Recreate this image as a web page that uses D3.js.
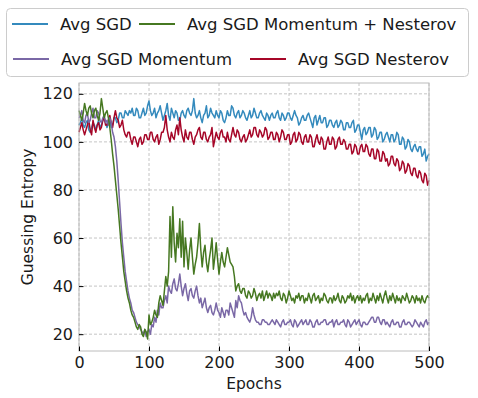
<!DOCTYPE html>
<html>
<head>
<meta charset="utf-8">
<script src="https://cdn.jsdelivr.net/npm/d3@7"></script>
<style>
  body { margin: 0; background: #fff; }
  text { font-family: "DejaVu Sans", sans-serif; fill: #1a1a1a; }
</style>
</head>
<body>
<div id="root"></div>
<script>
const width = 478;
const height = 398;

const epochStep = 2;   // one value every 2 epochs, 0..500
const seriesNames = ["Avg SGD", "Avg SGD Nesterov", "Avg SGD Momentum", "Avg SGD Momentum + Nesterov"];
const seriesColors = ["#348ABD", "#A60628", "#7A68A6", "#467821"];
const xTicks = [0, 100, 200, 300, 400, 500];
const yTicks = [20, 40, 60, 80, 100, 120];

// each row = 20 values (40 epochs)
const sgd = [
  107,108,110,107,106,108,109,105,104,106,108,107,105,107,109,106,107,109,110,108,
  106,108,109,106,107,110,110,108,109,112,112,110,110,113,112,111,113,112,114,111,
  111,114,113,110,110,112,114,111,112,115,117,113,111,112,114,110,112,113,115,112,
  109,111,113,116,111,109,114,112,110,113,112,109,109,112,113,111,110,113,114,112,
  111,113,118,112,110,111,113,110,108,111,112,115,110,111,114,112,111,110,113,111,
  110,113,112,109,108,110,113,111,111,115,114,111,110,112,113,110,111,113,112,110,
  109,111,113,110,111,114,112,110,110,112,113,111,110,109,112,111,109,111,112,110,
  110,112,113,110,109,112,111,109,110,112,112,110,109,111,113,111,110,107,108,110,
  111,109,109,111,112,110,108,106,110,111,107,109,111,108,108,110,110,106,107,109,
  109,107,106,108,109,106,107,109,108,105,105,108,108,106,106,108,109,104,105,107,
  107,104,101,105,106,103,104,106,106,102,103,106,105,101,102,104,104,100,101,103,
  104,102,100,103,103,100,101,104,103,99,99,102,101,97,98,101,100,97,96,98,
  99,97,96,98,98,94,95,97,92,94,95
];
const nesterov = [
  104,106,108,105,103,105,107,109,105,103,109,106,104,107,108,105,106,109,110,107,
  107,109,111,108,106,110,113,110,109,106,107,109,105,103,102,104,104,101,99,102,
  102,100,98,101,102,99,100,103,103,101,101,104,104,101,100,102,103,99,101,104,
  104,106,111,105,102,100,104,102,101,105,107,103,110,105,102,100,105,102,101,104,
  104,101,99,102,103,105,106,102,101,104,104,101,100,102,103,106,98,101,104,102,
  101,104,105,102,102,100,104,101,100,103,106,103,102,105,104,101,100,102,103,100,
  101,103,105,102,103,106,106,103,102,105,104,102,103,106,105,101,102,104,104,101,
  101,104,103,100,102,105,104,101,101,103,103,99,100,103,104,100,101,104,103,100,
  99,102,103,100,100,103,102,98,98,101,103,100,99,102,101,97,97,100,102,99,
  99,102,101,97,98,101,102,99,99,101,100,97,97,99,99,95,96,99,98,95,
  95,98,99,96,96,99,98,95,94,97,97,93,93,97,96,92,92,96,95,92,
  93,90,91,94,94,91,90,93,92,88,89,92,91,87,88,91,90,87,86,89,
  89,86,85,88,87,84,83,87,86,82,84
];
const momentum = [
  110,111,113,109,108,111,112,108,109,112,114,110,110,113,112,109,108,110,111,108,
  109,107,110,108,104,102,98,92,84,75,66,58,52,46,42,38,35,33,30,29,
  27,25,24,23,22,21,20,22,19,21,22,20,24,23,27,25,30,28,33,31,
  31,34,36,33,40,38,37,41,43,39,38,41,45,40,36,39,41,37,34,38,
  39,36,35,38,40,36,33,35,31,33,35,31,29,31,32,29,28,30,33,30,
  29,27,31,29,27,30,30,28,33,31,29,27,34,31,36,34,33,30,28,29,
  27,26,25,27,31,28,26,25,25,24,24,26,26,25,25,24,24,25,26,25,
  24,26,25,24,23,25,26,24,24,25,25,26,24,23,26,25,23,24,25,26,
  24,25,26,24,24,26,25,23,23,25,26,24,24,25,25,26,26,24,24,25,
  25,26,23,25,26,24,24,25,25,26,24,23,26,25,23,24,25,26,24,25,
  26,24,23,25,25,24,24,25,26,27,27,25,25,27,27,25,24,26,26,24,
  25,24,23,25,26,24,24,25,25,23,23,25,26,24,24,25,25,24,23,24,
  26,25,24,23,25,24,23,25,26,24,25
];
const momentumNesterov = [
  113,111,109,112,116,113,111,114,115,112,110,113,114,111,109,112,118,114,110,112,
  113,110,106,101,95,90,84,78,72,65,58,52,46,42,38,35,33,30,28,27,
  25,23,22,24,23,20,19,22,21,18,28,24,25,27,30,28,27,33,36,34,
  32,38,44,40,46,69,52,73,58,50,62,56,68,52,67,48,60,54,47,55,
  60,52,45,49,52,58,66,55,48,54,57,50,46,51,55,60,47,52,58,51,
  45,50,54,50,48,52,56,53,50,49,48,44,38,40,41,38,37,39,39,36,
  35,38,37,35,36,39,37,34,36,37,35,38,34,36,38,35,37,36,34,37,
  35,37,36,38,35,34,37,36,33,35,38,36,34,35,33,36,35,37,34,36,
  36,33,35,34,37,35,33,36,37,34,35,36,33,35,34,37,36,34,33,35,
  35,33,36,34,35,37,34,33,36,35,33,34,36,35,37,34,36,33,35,36,
  34,36,33,35,34,36,37,33,35,34,37,35,33,36,34,37,35,33,36,38,
  35,33,36,34,37,35,33,36,34,35,33,36,35,34,37,35,33,34,36,35,
  33,36,34,35,33,36,34,33,35,36,35
];

const allSeries = [sgd, nesterov, momentum, momentumNesterov];

const margin = {top: 83, right: 49, bottom: 47, left: 79};

const svg = d3.select("#root").append("svg")
  .attr("width", width)
  .attr("height", height);

const x = d3.scaleLinear().domain([0, 500]).range([margin.left, width - margin.right]);
const y = d3.scaleLinear().domain([13, 124.5]).range([height - margin.bottom, margin.top]);

// grid
const grid = svg.append("g");
grid.selectAll("line.gx")
  .data(xTicks)
  .enter()
  .append("line")
  .attr("x1", d => x(d)).attr("x2", d => x(d))
  .attr("y1", y.range()[0]).attr("y2", y.range()[1])
  .attr("stroke", "#b5b5b5")
  .attr("stroke-width", 0.8)
  .attr("stroke-dasharray", "3,2");
grid.selectAll("line.gy")
  .data(yTicks)
  .enter()
  .append("line")
  .attr("x1", x.range()[0]).attr("x2", x.range()[1])
  .attr("y1", d => y(d)).attr("y2", d => y(d))
  .attr("stroke", "#b5b5b5")
  .attr("stroke-width", 0.8)
  .attr("stroke-dasharray", "3,2");

// series lines
const line = d3.line()
  .x((d, i) => x(i * epochStep))
  .y(d => y(d));

svg.selectAll("path.series")
  .data(allSeries)
  .enter()
  .append("path")
  .attr("class", "series")
  .attr("d", d => line(d))
  .attr("fill", "none")
  .attr("stroke", (d, i) => seriesColors[i])
  .attr("stroke-width", 1.5)
  .attr("stroke-linejoin", "round");

// frame
svg.append("rect")
  .attr("x", x.range()[0])
  .attr("y", y.range()[1])
  .attr("width", x.range()[1] - x.range()[0])
  .attr("height", y.range()[0] - y.range()[1])
  .attr("fill", "none")
  .attr("stroke", "#bcbcbc")
  .attr("stroke-width", 1);

// axes, ticks pointing inward
const xAxis = svg.append("g")
  .attr("transform", `translate(0,${height - margin.bottom})`)
  .call(d3.axisBottom(x).tickValues(xTicks).tickSizeInner(-4.5).tickSizeOuter(0).tickPadding(6));
const yAxis = svg.append("g")
  .attr("transform", `translate(${margin.left},0)`)
  .call(d3.axisLeft(y).tickValues(yTicks).tickSizeInner(-4.5).tickSizeOuter(0).tickPadding(6));

[xAxis, yAxis].forEach(a => {
  a.select(".domain").remove();
  a.selectAll(".tick line").attr("stroke", "#000").attr("stroke-width", 1);
  a.selectAll(".tick text")
    .attr("font-family", "DejaVu Sans")
    .attr("font-size", "16px")
    .attr("fill", "#1a1a1a");
});

// axis labels
svg.append("text")
  .attr("x", (x.range()[0] + x.range()[1]) / 2)
  .attr("y", 389)
  .attr("text-anchor", "middle")
  .attr("font-size", "15.5px")
  .text("Epochs");

svg.append("text")
  .attr("transform", `translate(33,${(y.range()[0] + y.range()[1]) / 2}) rotate(-90)`)
  .attr("text-anchor", "middle")
  .attr("font-size", "15.5px")
  .text("Guessing Entropy");

// legend
const legend = svg.append("g").attr("id", "legend");
legend.append("rect")
  .attr("x", 6.5)
  .attr("y", 8.5)
  .attr("width", 462)
  .attr("height", 68)
  .attr("rx", 4)
  .attr("fill", "#fff")
  .attr("fill-opacity", 0.8)
  .attr("stroke", "#cccccc");

const legendLayout = [
  {s: 0, x: 12, y: 24},
  {s: 3, x: 139, y: 24},
  {s: 2, x: 13, y: 59},
  {s: 1, x: 250, y: 59}
];

legend.selectAll("line")
  .data(legendLayout)
  .enter()
  .append("line")
  .attr("x1", d => d.x).attr("x2", d => d.x + 36)
  .attr("y1", d => d.y).attr("y2", d => d.y)
  .attr("stroke", d => seriesColors[d.s])
  .attr("stroke-width", 2.2);

legend.selectAll("text")
  .data(legendLayout)
  .enter()
  .append("text")
  .attr("x", d => d.x + 48)
  .attr("y", d => d.y + 6)
  .attr("font-size", "16.5px")
  .text(d => seriesNames[d.s]);
</script>
</body>
</html>
